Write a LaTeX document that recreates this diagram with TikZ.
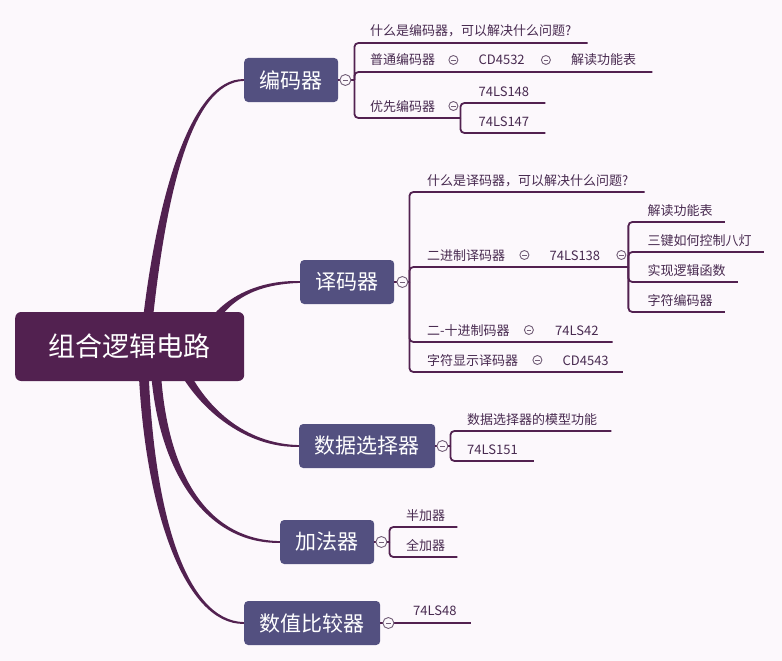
\documentclass[tikz,border=0pt]{standalone}
\usepackage{fontspec}
\setmainfont{Noto Sans CJK SC}
\usepackage{xcolor}
\definecolor{rootplum}{RGB}{82, 33, 80}
\definecolor{topicslate}{RGB}{83, 80, 128}
\definecolor{wireplum}{RGB}{82, 33, 80}
\definecolor{subtext}{RGB}{72, 42, 80}
\definecolor{foldgrey}{RGB}{115, 95, 120}
\definecolor{paper}{RGB}{252, 248, 252}
\usepackage{tikz}
\usetikzlibrary{positioning, calc, backgrounds}

% tapered main branch: from, ctrl1, ctrl2, to, side (1 up, -1 down)
\newcommand{\trunk}[5]{%
  \fill[wireplum] ($(#1)+(-5,0)$) .. controls ($(#2)+(-4.5,0)$) and ($(#3)+(0,-2.2*#5)$) .. ($(#4)+(0,-0.9*#5)$)
    -- ($(#4)+(0,0.9*#5)$) .. controls ($(#3)+(0,2.2*#5)$) and ($(#2)+(4.5,0)$) .. ($(#1)+(5,0)$) -- cycle;}

\begin{document}
\begin{tikzpicture}[x=1pt, y=-1pt,
    root/.style={fill=rootplum, text=white, rounded corners=6pt, minimum width=229pt, minimum height=69pt,
      font=\fontsize{27}{30}\selectfont, anchor=west},
    topic/.style={fill=topicslate, text=white, rounded corners=4pt, minimum height=44pt, inner xsep=15.5pt,
      font=\fontsize{21}{24}\selectfont, anchor=west},
    sub/.style={anchor=base west, inner sep=0pt, text=subtext, font=\fontsize{13}{15}\selectfont},
    wire/.style={draw=wireplum, line width=1.8pt, rounded corners=4pt},
    fold/.style={circle, draw=foldgrey, fill=paper, line width=0.9pt, minimum size=9pt, inner sep=0pt,
      path picture={\draw[foldgrey, line width=0.9pt] ([xshift=-2.3pt]path picture bounding box.center)
        -- ([xshift=2.3pt]path picture bounding box.center);}},
    topfold/.style={fold, minimum size=11pt}]
    \useasboundingbox (0,0) rectangle (782,661);

    % central idea and main topics
    \node[root] (root) at (15,346.5) {组合逻辑电路};
    \node[topic] (enc) at (244,80) {编码器};
    \node[topic] (dec) at (300,282) {译码器};
    \node[topic] (sel) at (299,446) {数据选择器};
    \node[topic] (add) at (280,542) {加法器};
    \node[topic] (cmp) at (244,623) {数值比较器};

    \begin{scope}[on background layer]
        \fill[paper] (0,0) rectangle (782,661);
        \coordinate (t-enc) at ($(root.center)+(16.5,-11.5)$);
        \coordinate (t-dec) at ($(root.center)+(75.5,-11.5)$);
        \coordinate (t-sel) at ($(root.center)+(48.5,13.5)$);
        \coordinate (t-add) at ($(root.center)+(25.5,13.5)$);
        \coordinate (t-cmp) at ($(root.center)+(13.5,13.5)$);
        \trunk{t-enc}{160,200}{190,80}{enc.west}{1}
        \trunk{t-dec}{222,298}{258,282}{dec.west}{1}
        \trunk{t-sel}{200,408}{245,446}{sel.west}{-1}
        \trunk{t-add}{160,470}{205,542}{add.west}{-1}
        \trunk{t-cmp}{148,510}{185,623}{cmp.west}{-1}
    \end{scope}

    % 编码器
    \coordinate (enc-b) at ($(enc.east)+(16,0)$);
    \draw[wire] (enc.east) -- (enc-b);
    \node[sub] (e1) at (370,36) {什么是编码器，可以解决什么问题?};
    \draw[wire] (enc-b) |- ($(e1.base east)+(16,7)$);
    \node[sub] (e2) at (370,65) {普通编码器};
    \node[fold] (e2f) at ($(e2.base east)+(18,-5)$) {};
    \node[sub] (e2a) at ($(e2f.center)+(25,5)$) {CD4532};
    \node[fold] (e2af) at ($(e2a.base east)+(21,-5)$) {};
    \node[sub] (e2b) at ($(e2af.center)+(25,5)$) {解读功能表};
    \draw[wire] (enc-b) |- ($(e2b.base east)+(16,7)$);
    \node[sub] (e3) at (370,111) {优先编码器};
    \node[fold] (e3f) at ($(e3.base east)+(18,-5)$) {};
    \coordinate (e3-b) at ($(e3f.center)+(7,12)$);
    \draw[wire] (enc-b) |- (e3-b);
    \node[sub] (e3a) at ($(e3-b)+(18,-22)$) {74LS148};
    \node[sub] (e3b) at ($(e3-b)+(18,8)$) {74LS147};
    \draw[wire] (e3-b) |- ($(e3a.base east)+(16,7)$);
    \draw[wire] (e3-b) |- ($(e3b.base east)+(16,7)$);
    \node[topfold] (enc-f) at ($(enc.east)+(7,0)$) {};

    % 译码器
    \coordinate (dec-b) at ($(dec.east)+(15,0)$);
    \draw[wire] (dec.east) -- (dec-b);
    \node[sub] (d1) at (427,185) {什么是译码器，可以解决什么问题?};
    \draw[wire] (dec-b) |- ($(d1.base east)+(16,7)$);
    \node[sub] (d2) at (427,260) {二进制译码器};
    \node[fold] (d2f) at ($(d2.base east)+(19,-5)$) {};
    \node[sub] (d2a) at ($(d2f.center)+(25,5)$) {74LS138};
    \node[fold] (d2af) at ($(d2a.base east)+(21,-5)$) {};
    \coordinate (d2-b) at ($(d2af.center)+(7,12)$);
    \draw[wire] (dec-b) |- (d2-b);
    \node[sub] (d2b1) at ($(d2-b)+(19,-52)$) {解读功能表};
    \node[sub] (d2b2) at ($(d2-b)+(19,-22)$) {三键如何控制八灯};
    \node[sub] (d2b3) at ($(d2-b)+(19,8)$) {实现逻辑函数};
    \node[sub] (d2b4) at ($(d2-b)+(19,38)$) {字符编码器};
    \foreach \n in {d2b1,d2b2,d2b3,d2b4}
        \draw[wire] (d2-b) |- ($(\n.base east)+(12,7)$);
    \node[sub] (d3) at (427,335) {二-十进制码器};
    \node[fold] (d3f) at ($(d3.base east)+(19,-5)$) {};
    \node[sub] (d3a) at ($(d3f.center)+(26,5)$) {74LS42};
    \draw[wire] (dec-b) |- ($(d3a.base east)+(14,7)$);
    \node[sub] (d4) at (427,365) {字符显示译码器};
    \node[fold] (d4f) at ($(d4.base east)+(19,-5)$) {};
    \node[sub] (d4a) at ($(d4f.center)+(25,5)$) {CD4543};
    \draw[wire] (dec-b) |- ($(d4a.base east)+(14,7)$);
    \node[topfold] (dec-f) at ($(dec.east)+(8,0)$) {};

    % 数据选择器
    \coordinate (sel-b) at ($(sel.east)+(15,0)$);
    \draw[wire] (sel.east) -- (sel-b);
    \node[sub] (s1) at (467,424) {数据选择器的模型功能};
    \node[sub] (s2) at (467,454) {74LS151};
    \draw[wire] (sel-b) |- ($(s1.base east)+(14,7)$);
    \draw[wire] (sel-b) |- ($(s2.base east)+(16,7)$);
    \node[topfold] (sel-f) at ($(sel.east)+(7,0)$) {};

    % 加法器
    \coordinate (add-b) at ($(add.east)+(15,0)$);
    \draw[wire] (add.east) -- (add-b);
    \node[sub] (a1) at (406,520) {半加器};
    \node[sub] (a2) at (406,550) {全加器};
    \draw[wire] (add-b) |- ($(a1.base east)+(12,7)$);
    \draw[wire] (add-b) |- ($(a2.base east)+(12,7)$);
    \node[topfold] (add-f) at ($(add.east)+(7,0)$) {};

    % 数值比较器
    \node[sub] (c1) at (413,615) {74LS48};
    \draw[wire] (cmp.east) -- ($(c1.base east)+(14,8)$);
    \node[topfold] (cmp-f) at ($(cmp.east)+(8,0)$) {};
\end{tikzpicture}
\end{document}
